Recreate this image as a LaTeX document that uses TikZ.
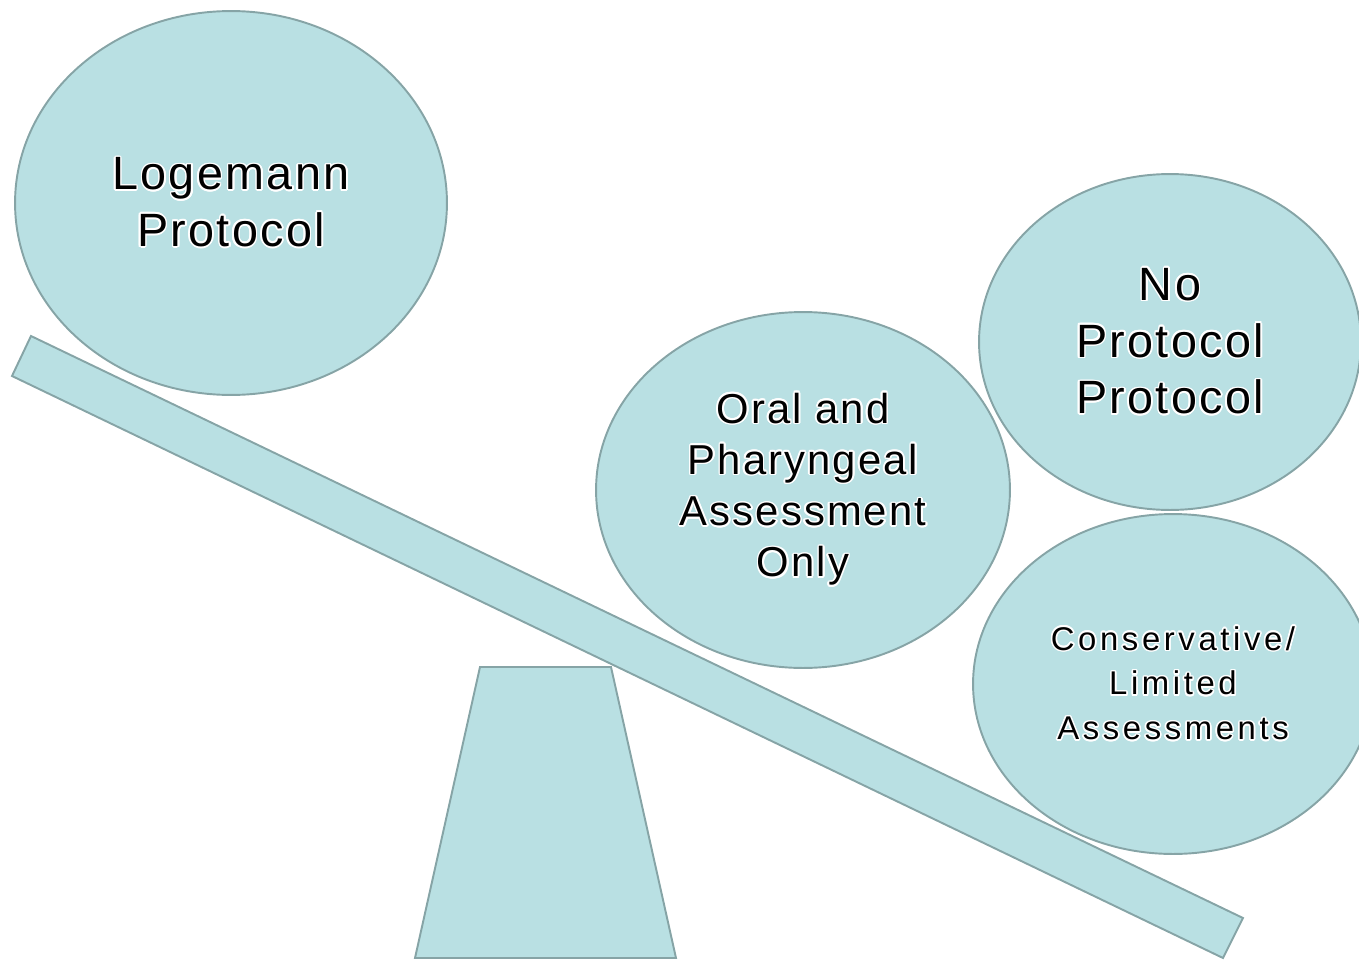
\documentclass[tikz,border=0pt]{standalone}
\usepackage{fontspec}
\setmainfont{Liberation Sans}
\usepackage{contour}
\usetikzlibrary{shapes.geometric}

\definecolor{seesawfill}{RGB}{185,224,227}
\definecolor{seesawline}{RGB}{134,164,166}
\newfontfamily\bigfont[LetterSpace=5]{Liberation Sans}
\newfontfamily\smallfont[LetterSpace=11]{Liberation Sans}
\contourlength{0.9pt}
\newcommand{\wl}[1]{\contour{white}{#1}}

\tikzset{
  weight/.style={ellipse, draw=seesawline, fill=seesawfill, line width=1.1pt, inner sep=0pt, align=center},
  plank/.style={draw=seesawline, fill=seesawfill, line width=1.1pt}
}

\begin{document}
\begin{tikzpicture}[x=0.02cm, y=-0.02cm]
            \useasboundingbox (0,0) rectangle (1359,960);
            % fulcrum and beam
            \draw[plank] (480,667) -- (611,667) -- (676,958) -- (415,958) -- cycle;
            \draw[plank] (31,336) -- (12,376) -- (1223,958) -- (1243,918) -- cycle;
            % weights
            \node[weight, minimum width=8.64cm, minimum height=7.68cm, font=\bigfont\fontsize{26.6}{32.3}\selectfont] (logemann) at (231,203) {\wl{Logemann}\\\wl{Protocol}};
            \node[weight, minimum width=8.28cm, minimum height=7.12cm, font=\bigfont\fontsize{23.8}{29.2}\selectfont] (oral) at (803,490) {\wl{Oral and}\\\wl{Pharyngeal}\\\wl{Assessment}\\\wl{Only}};
            \node[weight, minimum width=7.64cm, minimum height=6.72cm, font=\bigfont\fontsize{26.6}{32.3}\selectfont] (noproto) at (1170,342) {\wl{No}\\\wl{Protocol}\\\wl{Protocol}};
            \node[weight, minimum width=8.0cm, minimum height=6.8cm, font=\smallfont\fontsize{18.7}{25.5}\selectfont] (conserv) at (1173,684) {\wl{Conservative/}\\\wl{Limited}\\\wl{Assessments}};
\end{tikzpicture}
\end{document}
